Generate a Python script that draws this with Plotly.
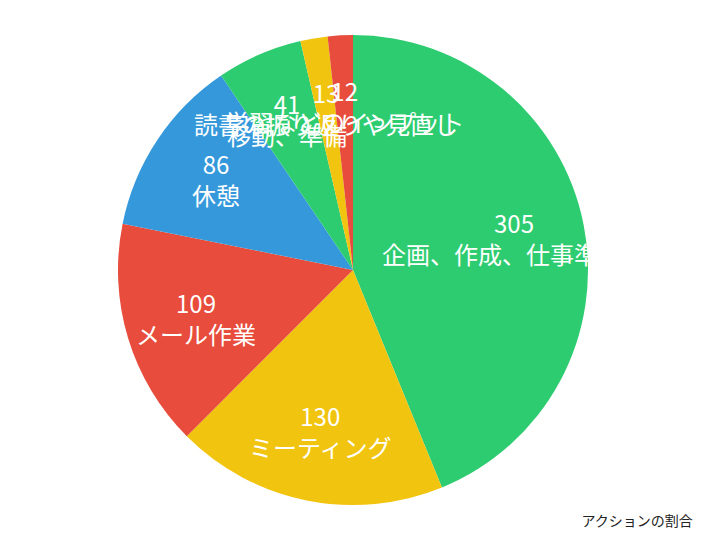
import math
import plotly.graph_objects as go

labels = ["企画、作成、仕事準備等", "ミーティング", "メール作業", "休憩", "移動、準備",
          "読書の振り返りや見直し", "学習などのインプット"]
values = [305, 130, 109, 86, 41, 13, 12]
colors = ["#2ecc71", "#f1c40f", "#e74c3c", "#3498db", "#2ecc71", "#f1c40f", "#e74c3c"]
title_text = "アクションの割合"

fig = go.Figure(go.Pie(
    labels=labels,
    values=values,
    sort=False,
    direction="clockwise",
    rotation=0,
    marker=dict(colors=colors, line=dict(width=0)),
    textinfo="none",
    showlegend=False,
    hoverinfo="label+value",
))

# value / label texts placed along each slice's bisector (derived from the data)
total = sum(values)
cum = 0
k = 0.70
for lab, val in zip(labels, values):
    mid = (cum + val / 2) / total * 2 * math.pi
    cum += val
    fig.add_annotation(
        x=0.5 + 0.5 * k * math.sin(mid),
        y=0.5 + 0.5 * k * math.cos(mid),
        xref="paper", yref="paper",
        xanchor="center", yanchor="middle",
        text=f"{val}<br>{lab}",
        showarrow=False,
        font=dict(family="Noto Sans CJK JP", size=24, color="white"),
    )

fig.update_layout(
    width=706, height=540,
    margin=dict(l=110, r=126, t=27, b=43),
    paper_bgcolor="white",
    title=dict(text=title_text, x=0.970, xanchor="right", y=0.05, yanchor="middle",
               xref="container", yref="container",
               font=dict(family="Noto Sans CJK JP", size=14, color="#222")),
)

fig.write_html("out.html")
